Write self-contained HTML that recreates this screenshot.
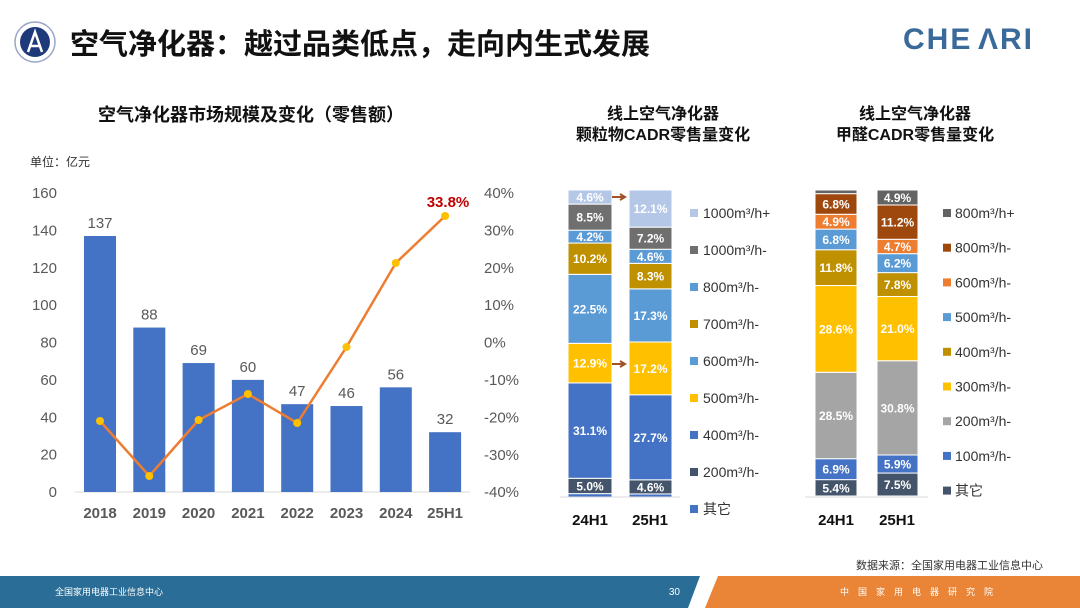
<!DOCTYPE html>
<html><head><meta charset="utf-8">
<style>
body{margin:0;width:1080px;height:608px;overflow:hidden;background:#fff;font-family:"Liberation Sans","Noto Sans CJK SC",sans-serif;}
svg{position:absolute;left:0;top:0}
text{font-family:"Liberation Sans","Noto Sans CJK SC",sans-serif}
</style></head><body>
<svg id="s" width="1080" height="608" viewBox="0 0 1080 608">
<circle cx="35" cy="42" r="20" fill="#fff" stroke="#9aa6c8" stroke-width="1.5"/>
<circle cx="35" cy="42" r="15" fill="#1f3a7a"/>
<path d="M28 52 L35 32 L42 52 M31 46 L39 46" stroke="#fff" stroke-width="2.5" fill="none"/>
<text x="70" y="54" font-size="29" font-weight="bold" fill="#111">空气净化器：越过品类低点，走向内生式发展</text>
<text x="903" y="49" font-size="30" font-weight="bold" fill="#3a6a9a" letter-spacing="2">CHE</text>
<text x="978" y="49" font-size="30" font-weight="bold" fill="#3a6a9a" letter-spacing="2">ΛRI</text>
<text x="98" y="121" font-size="18" font-weight="bold" fill="#111">空气净化器市场规模及变化（零售额）</text>
<text x="30" y="166" font-size="12" fill="#333">单位：亿元</text>
<g id="left" font-size="15" fill="#595959"></g>
<text x="663" y="119" font-size="16" font-weight="bold" fill="#111" text-anchor="middle">线上空气净化器</text>
<text x="663" y="140" font-size="16" font-weight="bold" fill="#111" text-anchor="middle">颗粒物CADR零售量变化</text>
<text x="915" y="119" font-size="16" font-weight="bold" fill="#111" text-anchor="middle">线上空气净化器</text>
<text x="915" y="140" font-size="16" font-weight="bold" fill="#111" text-anchor="middle">甲醛CADR零售量变化</text>
<g id="stk"></g>
<text x="1043" y="569" font-size="11" fill="#333" text-anchor="end">数据来源：全国家用电器工业信息中心</text>
<polygon points="0,576 700,576 688,608 0,608" fill="#2a6d96"/>
<polygon points="718,576 1080,576 1080,608 705,608" fill="#ea8436"/>
<text x="55" y="595" font-size="9" fill="#fff">全国家用电器工业信息中心</text>
<text x="680" y="595" font-size="10" fill="#fff" text-anchor="end">30</text>
<text x="840" y="595" font-size="9" fill="#fff" letter-spacing="9">中国家用电器研究院</text>
</svg>
<script>
var NS="http://www.w3.org/2000/svg";
function el(p,t,a,txt){var e=document.createElementNS(NS,t);for(var k in a)e.setAttribute(k,a[k]);if(txt!==undefined)e.textContent=txt;p.appendChild(e);return e;}
var L=document.getElementById('left');
var y0=492,sc=299/160;
for(var i=0;i<=8;i++){var v=i*20;el(L,'text',{x:57,y:y0-v*sc+5,'text-anchor':'end'},v);
 var p=40-i*10;el(L,'text',{x:484,y:193+i*37.4+5},(p)+'%');}
el(L,'line',{x1:75,y1:y0,x2:470,y2:y0,stroke:'#d9d9d9'});
var vals=[137,88,69,60,47,46,56,32],lab=['2018','2019','2020','2021','2022','2023','2024','25H1'];
var ly=[421,476,420,394,423,347,263,216];
var pts=[];
for(var i=0;i<8;i++){var cx=100+i*49.3;var h=vals[i]*sc;
 el(L,'rect',{x:cx-16,y:y0-h,width:32,height:h,fill:'#4472c4'});
 el(L,'text',{x:cx,y:y0-h-8,'text-anchor':'middle'},vals[i]);
 el(L,'text',{x:cx,y:518,'text-anchor':'middle','font-weight':'bold'},lab[i]);
 pts.push(cx+','+ly[i]);}
el(L,'polyline',{points:pts.join(' '),fill:'none',stroke:'#ed7d31','stroke-width':2.5});
for(var i=0;i<8;i++)el(L,'circle',{cx:100+i*49.3,cy:ly[i],r:4,fill:'#ffc000'});
el(L,'text',{x:448,y:207,'text-anchor':'middle','font-weight':'bold',fill:'#c00000'},'33.8%');

var S=document.getElementById('stk');
function stack(x,w,top,bot,data){var tot=0;data.forEach(function(d){tot+=d[0]});var y=bot;
 data.forEach(function(d){var h=(bot-top)*d[0]/tot;y-=h;el(S,'rect',{x:x,y:y,width:w,height:h,fill:d[1],stroke:'#fff','stroke-width':1});
 if(d[2]&&h>8)el(S,'text',{x:x+w/2,y:y+h/2+4.5,'text-anchor':'middle','font-size':12,'font-weight':'bold',fill:'#fff'},d[0].toFixed(1)+'%');});}
var c1=['#4472c4','#44546a','#4472c4','#ffc000','#5b9bd5','#bf9000','#5b9bd5','#6f6f6f','#b4c7e7'];
var a=[1.1,5.0,31.1,12.9,22.5,10.2,4.2,8.5,4.6],b=[1.0,4.6,27.7,17.2,17.3,8.3,4.6,7.2,12.1];
stack(568,44,190,497,a.map(function(v,i){return[v,c1[i],i>0]}));
stack(629,43,190,497,b.map(function(v,i){return[v,c1[i],i>0]}));
el(S,'line',{x1:560,y1:497,x2:680,y2:497,stroke:'#d9d9d9'});
[197,364].forEach(function(y){el(S,'path',{d:'M612 '+y+' L624 '+y+' M620 '+(y-3)+' L625 '+y+' L620 '+(y+3),stroke:'#a0522d','stroke-width':2,fill:'none'});});
var l1=['1000m³/h+','1000m³/h-','800m³/h-','700m³/h-','600m³/h-','500m³/h-','400m³/h-','200m³/h-','其它'];
var lc1=['#b4c7e7','#6f6f6f','#5b9bd5','#bf9000','#5b9bd5','#ffc000','#4472c4','#44546a','#4472c4'];
for(var i=0;i<9;i++){var y=214+i*37;el(S,'rect',{x:690,y:y-5,width:8,height:8,fill:lc1[i]});el(S,'text',{x:703,y:y+4,'font-size':14,fill:'#333'},l1[i]);}
var c2=['#44546a','#4472c4','#a5a5a5','#ffc000','#bf9000','#5b9bd5','#ed7d31','#9e480e','#636363'];
var d1=[5.4,6.9,28.5,28.6,11.8,6.8,4.9,6.8,1.2],d2=[7.5,5.9,30.8,21.0,7.8,6.2,4.7,11.2,4.9];
stack(815,42,190,496,d1.map(function(v,i){return[v,c2[i],true]}));
stack(877,41,190,496,d2.map(function(v,i){return[v,c2[i],true]}));
el(S,'line',{x1:805,y1:497,x2:928,y2:497,stroke:'#d9d9d9'});
var l2=['800m³/h+','800m³/h-','600m³/h-','500m³/h-','400m³/h-','300m³/h-','200m³/h-','100m³/h-','其它'];
var lc2=['#636363','#9e480e','#ed7d31','#5b9bd5','#bf9000','#ffc000','#a5a5a5','#4472c4','#44546a'];
for(var i=0;i<9;i++){var y=214+i*34.7;el(S,'rect',{x:943,y:y-5,width:8,height:8,fill:lc2[i]});el(S,'text',{x:955,y:y+4,'font-size':14,fill:'#333'},l2[i]);}
[[590,'24H1'],[650,'25H1'],[836,'24H1'],[897,'25H1']].forEach(function(d){el(S,'text',{x:d[0],y:525,'text-anchor':'middle','font-size':15,'font-weight':'bold',fill:'#111'},d[1]);});
</script>
</body></html>
